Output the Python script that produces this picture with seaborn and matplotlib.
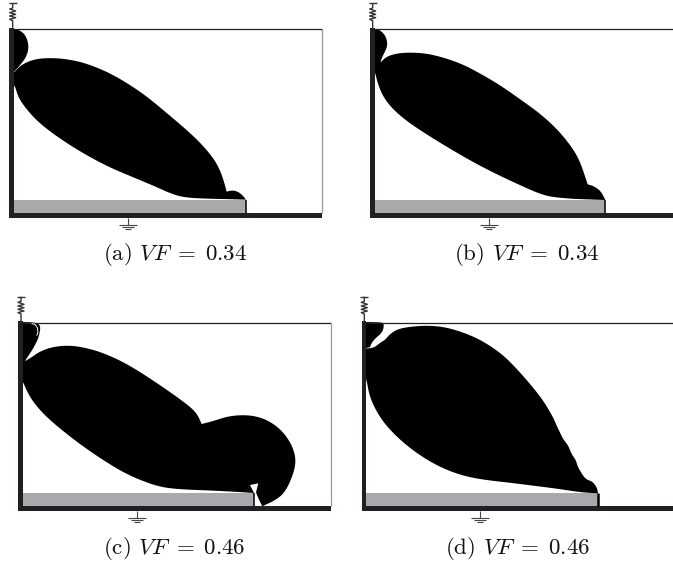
import matplotlib
matplotlib.use("Agg")
import matplotlib.pyplot as plt
import numpy as np
import seaborn as sns

sns.set_theme(style="white")
plt.rcParams['mathtext.fontset'] = 'cm'
plt.rcParams['font.family'] = ['cmr10', 'DejaVu Sans']
plt.rcParams['axes.formatter.use_mathtext'] = True

# Outlines, in 3x crop pixels of each panel
# a point given twice stays a sharp corner
a_main_x = [44, 44, 60, 85, 115, 150, 190, 240, 290, 340, 400, 450, 500, 550, 600, 640, 660, 672, 680, 680, 695, 712, 727, 738, 738, 670, 620, 560, 520, 460, 400, 340, 280, 220, 160, 110, 75, 55, 44, 36, 36]
a_main_y = [215, 215, 198, 184, 176, 174, 176, 185, 202, 225, 261, 297, 339, 381, 427, 474, 510, 545, 575, 575, 571, 574, 585, 599, 599, 597, 596, 593, 584, 557, 532, 507, 477, 442, 402, 362, 322, 292, 255, 255, 215]
a_top_x = [36, 36, 42, 62, 78, 86, 83, 72, 56, 44, 44, 36]
a_top_y = [86, 86, 86, 92, 108, 135, 160, 181, 200, 213, 213, 213]

b_main_x = [136, 136, 150, 175, 205, 240, 280, 330, 380, 430, 490, 550, 610, 660, 700, 730, 755, 755, 775, 795, 808, 808, 750, 700, 640, 600, 540, 470, 400, 330, 270, 210, 165, 140, 125, 117, 110, 110]
b_main_y = [185, 185, 171, 162, 158, 158, 162, 175, 193, 219, 254, 296, 339, 384, 431, 478, 553, 553, 559, 574, 600, 600, 598, 596, 590, 577, 550, 517, 480, 439, 402, 362, 322, 287, 250, 215, 215, 185]
b_top_x = [110, 110, 117, 135, 150, 155, 147, 138, 134, 134, 110]
b_top_y = [86, 86, 86, 92, 110, 135, 155, 172, 185, 185, 190]

c_main_x = [75, 75, 90, 120, 160, 210, 260, 310, 370, 430, 500, 560, 590, 605, 605, 640, 680, 720, 760, 800, 840, 870, 886, 886, 871, 851, 825, 795, 787, 787, 775, 768, 768, 775, 775, 750, 750, 762, 762, 700, 620, 540, 480, 420, 370, 320, 260, 200, 140, 100, 80, 69, 62, 62]
c_main_y = [228, 228, 220, 199, 185, 181, 189, 204, 231, 267, 314, 357, 384, 417, 417, 408, 395, 390, 392, 404, 431, 469, 510, 545, 590, 626, 646, 660, 664, 664, 640, 622, 622, 595, 595, 600, 600, 624, 624, 620, 616, 613, 606, 585, 562, 532, 492, 447, 397, 352, 317, 290, 290, 228]
c_top_x = [62, 62, 100, 115, 121, 120, 115, 100, 80, 75, 75, 62]
c_top_y = [111, 111, 112, 116, 125, 138, 160, 190, 220, 228, 228, 230]

d_main_x = [102, 102, 117, 137, 147, 162, 187, 240, 290, 340, 400, 450, 500, 540, 580, 620, 650, 662, 674, 682, 697, 706, 720, 724, 737, 750, 770, 783, 786, 786, 735, 670, 600, 520, 440, 380, 320, 260, 200, 150, 120, 100, 91, 84, 84]
d_main_y = [190, 190, 186, 170, 165, 147, 131, 123, 122, 129, 149, 174, 209, 249, 294, 344, 394, 422, 447, 463, 482, 506, 526, 542, 566, 583, 590, 608, 625, 625, 622, 612, 603, 593, 584, 572, 550, 517, 472, 422, 377, 332, 280, 280, 190]
d_top_x = [84, 84, 140, 143, 143, 136, 118, 106, 102, 102, 84]
d_top_y = [111, 111, 112, 117, 130, 145, 160, 175, 187, 187, 190]

spring_dx = [0, 0, -9, 9, -9, 9, -9, 9, -9, 0, 0]
spring_dy = [0, 14, 17, 23, 28, 33, 38, 43, 48, 52, 77]

captions = [r'(a) $VF\;=\;0.34$', r'(b) $VF\;=\;0.34$', r'(c) $VF\;=\;0.46$', r'(d) $VF\;=\;0.46$']
caption_x = [524, 572, 524, 545]
caption_y = [765, 765, 790, 790]

DARK = '#231f20'
GREY = '#a7a9ac'


def round_off(x, y, n=3):
    # corner cutting so the outline does not look like a polygon
    pts = np.column_stack([x, y]).astype(float)
    for _ in range(n):
        nxt = np.roll(pts, -1, axis=0)
        q = 0.75 * pts + 0.25 * nxt
        r = 0.25 * pts + 0.75 * nxt
        pts = np.column_stack([q, r]).reshape(-1, 2)
    return pts[:, 0], pts[:, 1]


def line(ax, x, y, lw, color=DARK):
    sns.lineplot(x=x, y=y, ax=ax, sort=False, estimator=None, color=color, lw=lw, solid_capstyle='butt')


def panel(pos, left, top, bot, bar_top, bar_right, right, spring_x, ground_x, main, small, cap, right_edge=True, bar_lw=1.1):
    ax = fig.add_axes(pos)
    ax.set_xlim(0, pos[2] * 673 * 3)
    ax.set_ylim(pos[3] * 565 * 3, 0)
    ax.axis('off')
    # frame
    line(ax, [left, right], [top, top], 0.9)
    if right_edge:
        line(ax, [right, right], [top, bot], 0.9, '#999999')
    ax.fill([left, bar_right, bar_right, left], [bar_top, bar_top, bot, bot], color=GREY, lw=0)
    # optimized shape
    ax.fill(*round_off(*small), color='black', lw=0)
    ax.fill(*round_off(*main), color='black', lw=0)
    line(ax, [bar_right, bar_right], [bar_top, bot], bar_lw, 'black')
    ax.fill([left - 14, left, left, left - 14], [top - 4, top - 4, bot + 14, bot + 14], color=DARK, lw=0)
    ax.fill([left - 14, right, right, left - 14], [bot, bot, bot + 14, bot + 14], color=DARK, lw=0)
    # spring and ground symbols
    sx = spring_x
    sy = top - 78
    line(ax, [sx + d for d in spring_dx], [sy + d for d in spring_dy], 1.0, '#333333')
    line(ax, [sx - 12, sx + 12], [sy, sy], 1.0, '#333333')
    gy = bot + 14
    line(ax, [ground_x, ground_x], [gy, gy + 20], 0.8, '#444444')
    line(ax, [ground_x - 27, ground_x + 27], [gy + 20, gy + 20], 0.8, '#444444')
    line(ax, [ground_x - 18, ground_x + 18], [gy + 27, gy + 27], 0.8, '#444444')
    line(ax, [ground_x - 9, ground_x + 9], [gy + 34, gy + 34], 0.8, '#444444')
    ax.text(cap[1], cap[2], cap[0], ha='center', va='center', fontsize=16.5, color='#111111')
    return ax


fig = plt.figure(figsize=(6.73, 5.65), dpi=100)
w1, w2, h = 336 / 673, 337 / 673, 280 / 565
y_low = 0
y_up = 285 / 565

panel([0, y_up, w1, h], 42, 88, 640, 600, 737, 967, 38, 385, (a_main_x, a_main_y), (a_top_x, a_top_y), (captions[0], caption_x[0], caption_y[0]))
panel([336 / 673, y_up, w2, h], 117, 88, 640, 600, 808, 1011, 110, 458, (b_main_x, b_main_y), (b_top_x, b_top_y), (captions[1], caption_x[1], caption_y[1]), right_edge=False)
ax_c = panel([0, y_low, w1, h], 69, 113, 664, 624, 763, 993, 63, 411, (c_main_x, c_main_y), (c_top_x, c_top_y), (captions[2], caption_x[2], caption_y[2]))
panel([336 / 673, y_low, w2, h], 91, 113, 664, 624, 785, 1011, 85, 433, (d_main_x, d_main_y), (d_top_x, d_top_y), (captions[3], caption_x[3], caption_y[3]), right_edge=False, bar_lw=1.8)

# little white arc inside the top blob of panel (c)
line(ax_c, [95, 105, 112, 114, 110], [116, 118, 128, 142, 152], 0.7, 'white')

fig.savefig('out.png', dpi=100)
